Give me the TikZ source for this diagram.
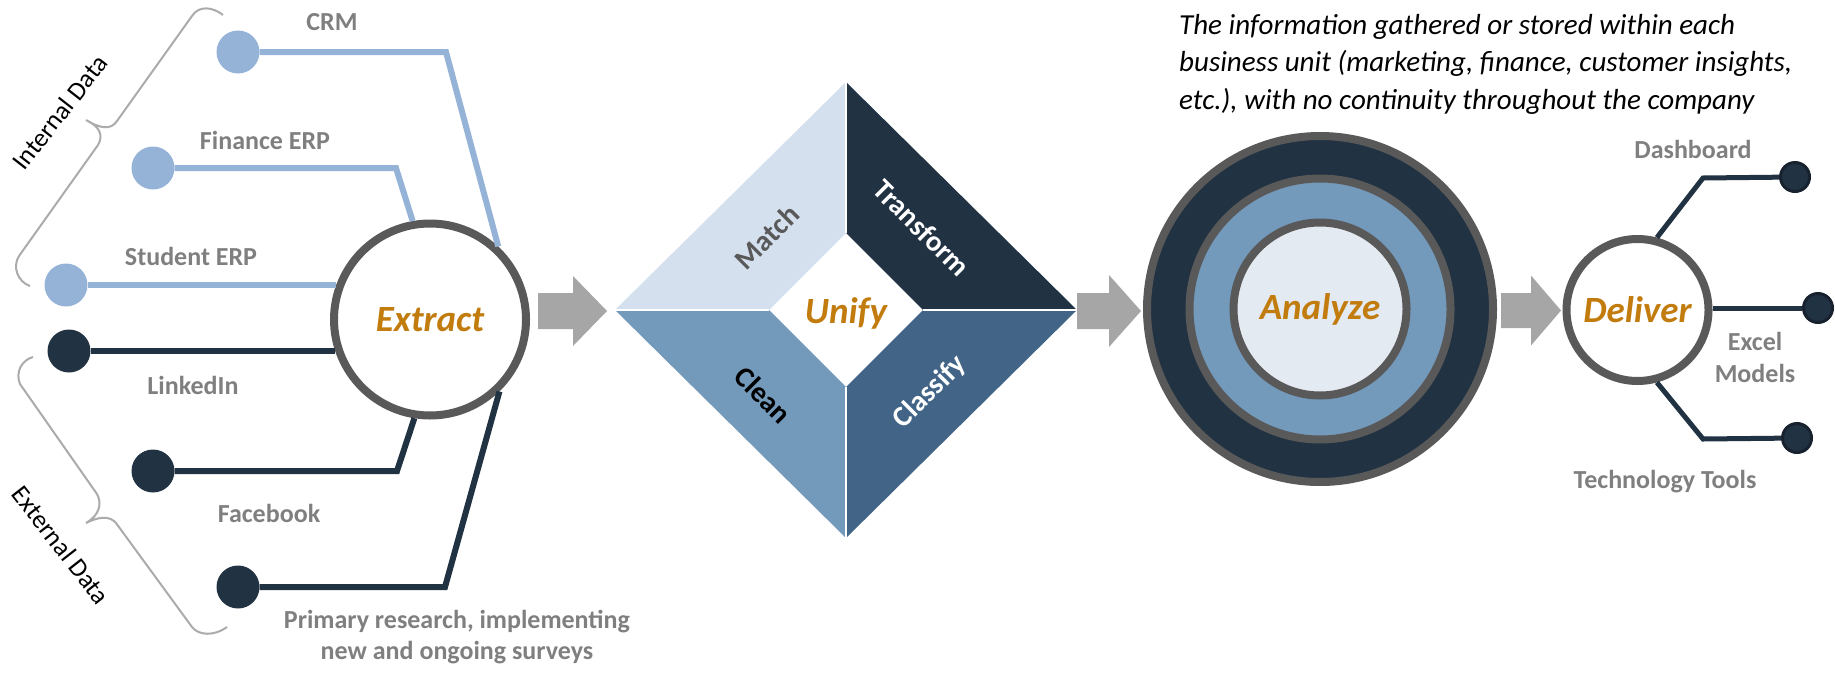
\documentclass[tikz,border=0pt]{standalone}
\usepackage{fontspec}
\setmainfont{Carlito}
\usetikzlibrary{calc}
\definecolor{navy}{HTML}{213243}
\definecolor{lblue}{HTML}{95B3D7}
\definecolor{midblue}{HTML}{7399BB}
\definecolor{steelb}{HTML}{426587}
\definecolor{paleb}{HTML}{D4E0EE}
\definecolor{innerb}{HTML}{E3EAF1}
\definecolor{ringgray}{HTML}{595959}
\definecolor{lblgray}{HTML}{7F7F7F}
\definecolor{arrgray}{HTML}{A6A6A6}
\definecolor{brgray}{HTML}{ABABAB}
\definecolor{orng}{HTML}{C27C0E}
\definecolor{dotedge}{HTML}{17222E}
\begin{document}
\begin{tikzpicture}[x=1pt,y=-1pt,
  lbl/.style={font=\fontsize{26}{31}\selectfont\bfseries, text=lblgray, align=center, inner sep=0pt},
  ttl/.style={font=\fontsize{37}{44}\selectfont\bfseries\itshape, text=orng},
  ring/.style={circle, draw=ringgray, line width=8pt, inner sep=0pt},
  ldot/.style={circle, fill=lblue, minimum size=43pt, inner sep=0pt},
  ddot/.style={circle, fill=navy, minimum size=43pt, inner sep=0pt},
  sdot/.style={circle, fill=navy, draw=dotedge, line width=3pt, minimum size=29pt, inner sep=0pt},
  lline/.style={draw=lblue, line width=6pt},
  dline/.style={draw=navy, line width=6pt},
  bline/.style={draw=navy, line width=5pt},
  brc/.style={draw=brgray, line width=2pt},
  blockarr/.style={fill=arrgray},
  ptxt/.style={font=\fontsize{29}{34}\selectfont\bfseries, inner sep=0pt},
  side/.style={font=\fontsize{26}{31}\selectfont, text=black, inner sep=0pt}
]
\useasboundingbox (0,0) rectangle (1835,672);

% ---------- Extract ----------
\node[ring, fill=white, minimum size=192pt, ttl] (extract) at (430,319.5) {Extract};

\node[ldot] (crm) at (238,52) {};
\node[ldot] (fin) at (153,168) {};
\node[ldot] (stu) at (66,285) {};
\node[ddot] (lin) at (69,351) {};
\node[ddot] (fb) at (153,471) {};
\node[ddot] (pri) at (238,587) {};

\coordinate (crmk) at (446,52);
\coordinate (fink) at (396,168);
\coordinate (fbk) at (397,471);
\coordinate (prik) at (445,587);

\draw[lline] (crm) -- (crmk) -- (extract.47);
\draw[lline] (fin) -- (fink) -- (extract.100);
\draw[lline] (stu) -- (extract.160 |- stu);
\draw[dline] (lin) -- (extract.198 |- lin);
\draw[dline] (fb) -- (fbk) -- (extract.261);
\draw[dline] (pri) -- (prik) -- (extract.314);

\node[lbl] (crml) at (332,22) {CRM};
\node[lbl] (finl) at (265,140) {Finance ERP};
\node[lbl] (stul) at (191,256) {Student ERP};
\node[lbl] (linl) at (193,385) {LinkedIn};
\node[lbl] (fbl) at (269,513) {Facebook};
\node[lbl] (pril) at (457,637) {Primary research, implementing\\new and ongoing surveys};

% braces
\draw[brc] (223,15) .. controls (213,7) and (199,5) .. (192,16) -- (117,121)
  .. controls (111,130) and (101,129) .. (86,120)
  .. controls (99,126) and (104,135) .. (98,145) -- (19,256)
  .. controls (12,267) and (18,282) .. (30,286);
\draw[brc] (33,357) .. controls (22,360) and (15,372) .. (20,384) -- (97,494)
  .. controls (102,503) and (100,515) .. (86,523)
  .. controls (100,516) and (110,516) .. (116,523) -- (192,627)
  .. controls (199,636) and (215,636) .. (227,627);
\node[side, rotate=52] (intl) at (60,112) {Internal Data};
\node[side, rotate=-52] (extl) at (61,545) {External Data};

% ---------- arrows ----------
\coordinate (a1) at (538,311);
\coordinate (a2) at (1077,311);
\coordinate (a3) at (1501,310.5);
\fill[blockarr] (a1) ++(0,-18) -- ++(35,0) -- ++(0,-17) -- ++(34,35) -- ++(-34,35) -- ++(0,-17) -- ++(-35,0) -- cycle;
\fill[blockarr] (a2) ++(0,-18) -- ++(32,0) -- ++(0,-18) -- ++(32,36) -- ++(-32,36) -- ++(0,-18) -- ++(-32,0) -- cycle;
\fill[blockarr] (a3) ++(0,-17.5) -- ++(30,0) -- ++(0,-17.5) -- ++(30,35) -- ++(-30,35) -- ++(0,-17.5) -- ++(-30,0) -- cycle;

% ---------- Unify diamond ----------
\coordinate (T) at (846,82);
\coordinate (L) at (615,310);
\coordinate (R) at (1077,310);
\coordinate (B) at (846,538);
\coordinate (t) at (846,233);
\coordinate (l) at (769,310);
\coordinate (r) at (923,310);
\coordinate (b) at (846,387);
\fill[paleb] (L) -- (T) -- (t) -- (l) -- cycle;
\fill[navy] (T) -- (R) -- (r) -- (t) -- cycle;
\fill[steelb] (R) -- (B) -- (b) -- (r) -- cycle;
\fill[midblue] (B) -- (L) -- (l) -- (b) -- cycle;
\draw[white, line width=1.5pt] (T) -- (t) (L) -- (l) (R) -- (r) (B) -- (b);
\node[ttl] (unify) at (846,313) {Unify};
\node[ptxt, text=ringgray, rotate=45] (match) at (767,237) {Match};
\node[ptxt, text=white, rotate=-45] (transform) at (922,228) {Transform};
\node[ptxt, text=black, rotate=-45] (clean) at (763,395) {Clean};
\node[ptxt, text=white, rotate=45] (classify) at (930,392) {Classify};

% ---------- Analyze ----------
\node[ring, fill=navy, minimum size=346pt] (outerring) at (1320,309) {};
\node[ring, fill=midblue, minimum size=261pt] (midring) at (outerring.center) {};
\node[ring, fill=innerb, minimum size=173pt, ttl] (analyze) at (outerring.center) {Analyze};

\node[anchor=west, align=left, inner sep=0pt, font=\fontsize{29}{37.5}\selectfont\itshape] (note) at (1179,64)
  {The information gathered or stored within each\\business unit (marketing, finance, customer insights,\\etc.), with no continuity throughout the company};

% ---------- Deliver ----------
\node[ring, fill=white, minimum size=142pt, ttl] (deliver) at (1637.5,310) {Deliver};
\node[sdot] (dash) at (1795,177) {};
\node[sdot] (excel) at (1818,308) {};
\node[sdot] (tech) at (1797,438) {};
\coordinate (dk1) at (1703,178);
\coordinate (dk3) at (1703,439);
\draw[bline] (deliver.75) -- (dk1) -- (dash);
\draw[bline] (deliver.east |- excel) -- (excel);
\draw[bline] (deliver.-75) -- (dk3) -- (tech);
\node[lbl] (dashl) at (1693,149) {Dashboard};
\node[lbl, font=\fontsize{26}{32}\selectfont\bfseries] (excell) at (1755,357) {Excel\\Models};
\node[lbl] (techl) at (1665,482) {Technology Tools};
\end{tikzpicture}
\end{document}
